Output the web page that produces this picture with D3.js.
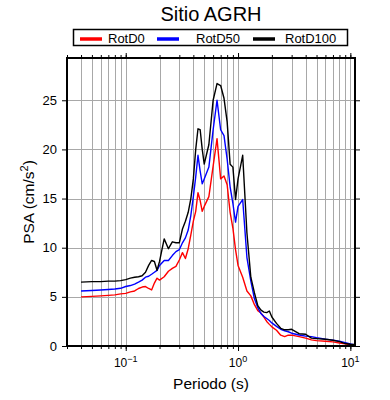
<!DOCTYPE html>
<html><head><meta charset="utf-8">
<script src="https://cdn.jsdelivr.net/npm/d3@7"></script>
<style>body{margin:0;background:#fff}svg{display:block;font-family:"Liberation Sans",Arial,sans-serif}</style>
</head><body><svg id="c" width="390" height="400"></svg>
<script>
const periods = [0.04,0.05,0.06,0.07,0.08,0.09,0.10,0.11,0.12,0.13,0.14,0.15,0.16,0.17,0.18,0.19,0.20,0.22,0.24,0.26,0.28,0.30,0.32,0.34,0.36,0.38,0.40,0.42,0.44,0.46,0.48,0.50,0.55,0.60,0.65,0.70,0.75,0.80,0.85,0.90,0.95,1.0,1.1,1.2,1.3,1.4,1.5,1.6,1.7,1.8,1.9,2.0,2.2,2.4,2.6,2.8,3.0,3.5,4.0,4.5,5.0,6.0,7.0,8.0,9.0,10.0,11.0];
const rotD0 = [5.0,5.05,5.1,5.15,5.2,5.3,5.35,5.5,5.6,5.85,6.0,6.05,5.85,5.7,6.4,6.9,6.7,7.05,7.6,7.9,8.1,8.75,9.5,8.9,9.9,11.3,12.7,13.7,15.6,14.8,13.7,14.2,15.2,18.3,21.1,17.0,17.3,16.4,13.6,12.0,9.8,8.2,7.0,5.6,5.1,4.2,3.6,3.35,2.95,2.5,2.2,1.95,1.6,1.1,0.95,1.1,1.1,0.95,0.8,0.62,0.55,0.48,0.42,0.3,0.22,0.12,0.08];
const rotD50 = [5.6,5.65,5.7,5.75,5.8,5.87,6.05,6.15,6.3,6.5,6.7,7.0,7.1,7.3,7.5,7.7,8.2,8.7,8.7,9.2,9.6,9.8,10.5,11.0,11.8,13.3,15.2,17.2,19.4,17.8,16.5,17.0,18.2,22.0,25.0,22.0,21.4,19.0,16.2,14.5,12.6,14.2,14.9,9.0,6.6,4.8,3.9,3.3,3.0,2.8,2.6,2.35,2.0,1.7,1.55,1.45,1.3,1.12,1.0,0.95,0.85,0.7,0.6,0.5,0.35,0.2,0.12];
const rotD100 = [6.5,6.55,6.55,6.6,6.6,6.65,6.75,6.9,7.0,7.05,7.15,7.5,8.2,8.7,8.6,7.7,8.6,10.9,9.9,10.6,10.5,10.5,11.9,12.7,13.6,15.0,17.0,20.0,22.1,22.0,20.0,18.5,20.5,25.0,26.7,26.5,25.2,22.8,18.5,18.2,14.9,17.0,19.4,11.5,7.0,5.4,4.1,3.65,3.45,3.4,3.56,2.95,2.3,1.8,1.65,1.65,1.7,1.25,1.2,0.8,0.75,0.68,0.58,0.45,0.25,0.18,0.15];
const seriesNames = ["RotD0","RotD50","RotD100"];
const seriesColors = ["#ff0000","#0000ff","#000000"];
const yTicks = [0,5,10,15,20,25];
const xMajorTicks = [0.1,1,10];
const xMajorExp = ["\u22121","0","1"];
const title = "Sitio AGRH";
const xTitle = "Periodo (s)";

const svg = d3.select("#c");
const L=67,R=355,T=58,B=346;
const x = d3.scaleLog().domain([0.03,11]).range([L,R]);
const y = d3.scaleLinear().domain([0,29.3]).range([B,T]);

const minor=[];
[0.01,0.1,1,10].forEach(d=>{for(let m=1;m<10;m++){const v=+(d*m).toPrecision(3); if(v>=0.03&&v<=11) minor.push(v);}});

// grid
svg.append("g").selectAll("line").data(minor.filter(v=>v>0.031&&v<10.9)).join("line")
  .attr("x1",d=>Math.round(x(d))+0.5).attr("x2",d=>Math.round(x(d))+0.5).attr("y1",T).attr("y2",B)
  .attr("stroke","#a8a8a8").attr("stroke-width",1);
svg.append("g").selectAll("line").data(yTicks.filter(v=>v>0)).join("line")
  .attr("x1",L).attr("x2",R).attr("y1",d=>Math.round(y(d))+0.5).attr("y2",d=>Math.round(y(d))+0.5)
  .attr("stroke","#a8a8a8").attr("stroke-width",1);

// axes ticks
function tickAxis(axisFn, pos, vals, size){
  const g=svg.append("g").attr("transform",pos).call(axisFn.tickValues(vals).tickSize(size).tickFormat(""));
  g.select(".domain").remove();
  g.selectAll("line").attr("stroke","#000").attr("stroke-width",1);
  return g;
}
tickAxis(d3.axisBottom(x),`translate(0,${B})`,minor,3);
tickAxis(d3.axisBottom(x),`translate(0,${B})`,xMajorTicks,5);
tickAxis(d3.axisTop(x),`translate(0,${T})`,minor,3);
tickAxis(d3.axisTop(x),`translate(0,${T})`,xMajorTicks,5);
tickAxis(d3.axisLeft(y),`translate(${L},0)`,yTicks,5);
tickAxis(d3.axisRight(y),`translate(${R},0)`,yTicks,5);

// lines
const data=[rotD0,rotD50,rotD100];
const line=d3.line().x((d,i)=>x(periods[i])).y(d=>y(d));
data.forEach((s,k)=>{
  svg.append("path").datum(s).attr("d",line).attr("fill","none")
    .attr("stroke",seriesColors[k]).attr("stroke-width",1.4).attr("stroke-linejoin","round");
});

// frame
svg.append("rect").attr("x",L).attr("y",T).attr("width",R-L).attr("height",B-T)
  .attr("fill","none").attr("stroke","#000").attr("stroke-width",2);

// y labels
svg.append("g").selectAll("text").data(yTicks).join("text")
  .attr("x",L-10).attr("y",d=>y(d)+4.5).attr("text-anchor","end").attr("font-size",13).text(d=>d);
// x labels
const xl=svg.append("g").selectAll("text").data(xMajorTicks).join("text")
  .attr("x",d=>x(d)).attr("y",367).attr("text-anchor","middle").attr("font-size",12);
xl.append("tspan").text("10");
xl.append("tspan").attr("dy",-5).attr("font-size",9).text((d,i)=>xMajorExp[i]);

svg.append("text").attr("x",(L+R)/2).attr("y",389).attr("text-anchor","middle").attr("font-size",15.5).text(xTitle);
const yl=svg.append("text").attr("transform",`translate(34,${(T+B)/2}) rotate(-90)`).attr("text-anchor","middle").attr("font-size",15.5);
yl.append("tspan").text("PSA (cm/s");
yl.append("tspan").attr("dy",-6).attr("font-size",11).text("2");
yl.append("tspan").attr("dy",6).text(")");

svg.append("text").attr("x",(L+R)/2).attr("y",21).attr("text-anchor","middle").attr("font-size",20).text(title);

// legend
svg.append("rect").attr("x",73.5).attr("y",29.5).attr("width",274).attr("height",16).attr("fill","#fff").attr("stroke","#000").attr("stroke-width",1.5);
const lx=[80,157,253];
seriesNames.forEach((n,k)=>{
  svg.append("line").attr("x1",lx[k]).attr("x2",lx[k]+22).attr("y1",39).attr("y2",39).attr("stroke",seriesColors[k]).attr("stroke-width",3.5);
  svg.append("text").attr("x",lx[k]+(k===0?28:k===1?39:32)).attr("y",42.5).attr("font-size",13).text(n);
});
</script></body></html>
